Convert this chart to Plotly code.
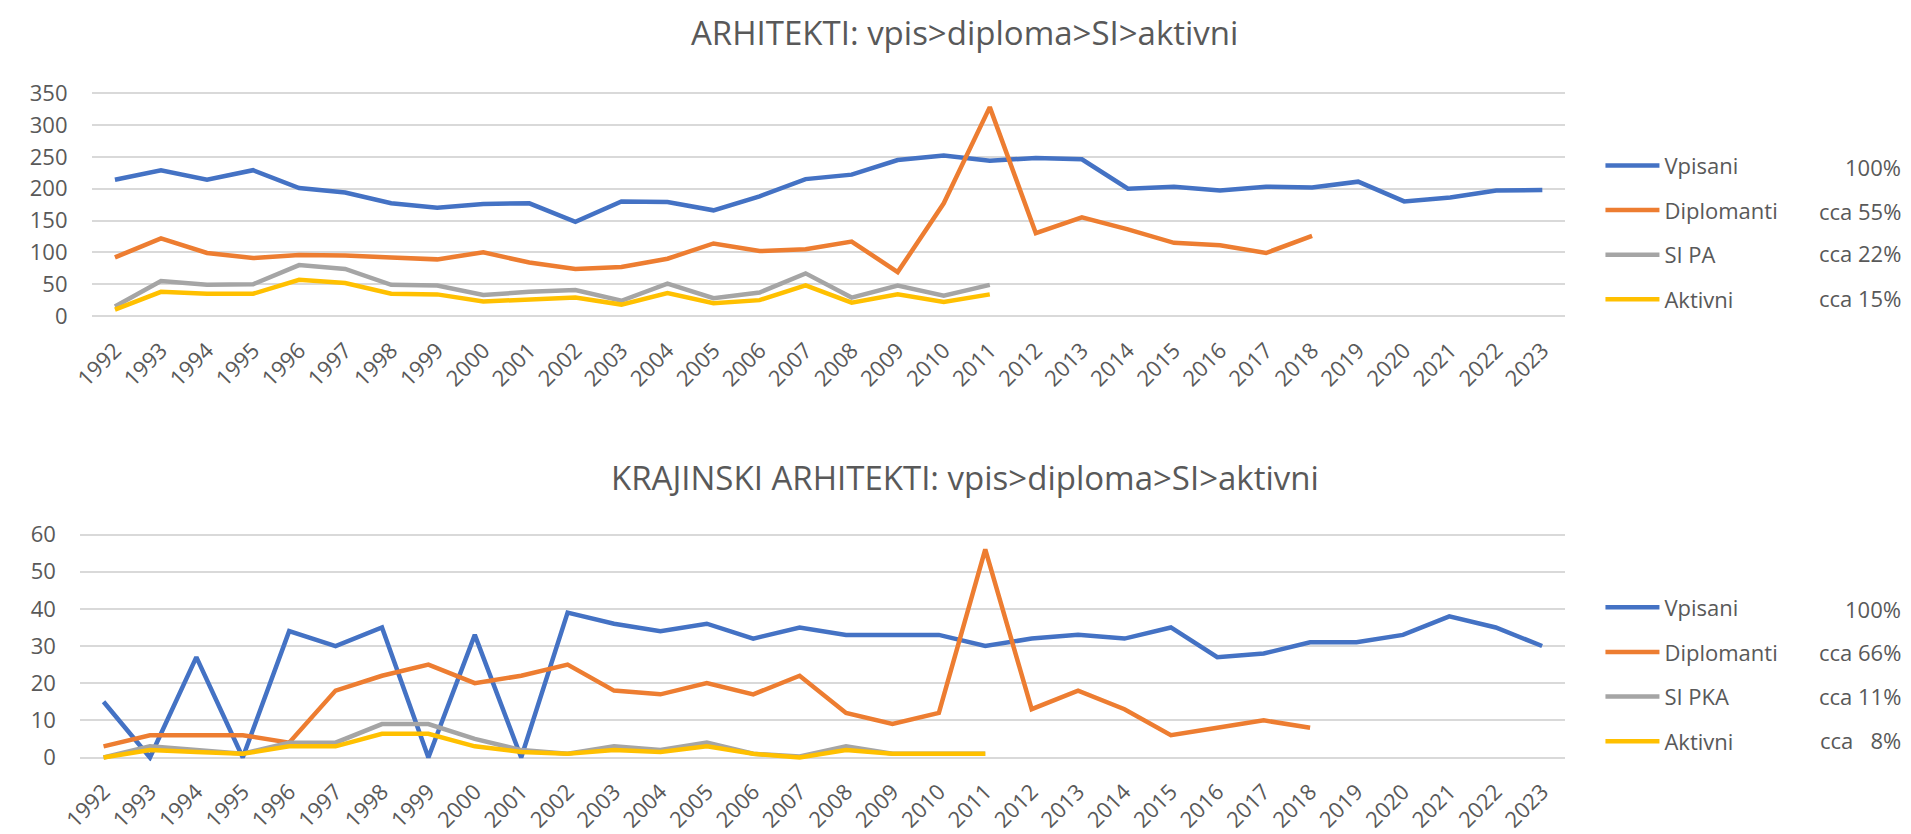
import plotly.graph_objects as go

W, H = 1911, 834

years = list(range(1992, 2024))
year_labels = [str(y) for y in years]

series_names_top = ["Vpisani", "Diplomanti", "SI PA", "Aktivni"]
series_names_bot = ["Vpisani", "Diplomanti", "SI PKA", "Aktivni"]
pct_top = ["100%", "cca 55%", "cca 22%", "cca 15%"]
pct_bot = ["100%", "cca 66%", "cca 11%", "cca\u00a0\u00a0\u00a08%"]

arh_vpisani = [214, 229, 214, 229, 201, 194, 177, 170, 176, 177, 148, 180, 179, 166, 188, 215,
               222, 245, 252, 244, 248, 246, 200, 203, 197, 203, 202, 211, 180, 186, 197, 198]
arh_diplomanti = [92, 122, 99, 91, 96, 95, 92, 89, 100, 84, 74, 77, 90, 114, 102, 105, 117, 69,
                  177, 328, 130, 155, 136, 115, 111, 99, 126]
arh_si_pa = [15, 55, 49, 50, 80, 74, 49, 48, 33, 38, 41, 24, 51, 28, 37, 67, 29, 48, 32, 49]
arh_aktivni = [10, 38, 35, 35, 57, 52, 35, 34, 23, 26, 29, 18, 36, 20, 25, 48, 21, 34, 22, 34]

ka_vpisani = [15, 0, 27, 0, 34, 30, 35, 0, 33, 0, 39, 36, 34, 36, 32, 35, 33, 33, 33, 30, 32, 33,
              32, 35, 27, 28, 31, 31, 33, 38, 35, 30]
ka_diplomanti = [3, 6, 6, 6, 4, 18, 22, 25, 20, 22, 25, 18, 17, 20, 17, 22, 12, 9, 12, 56, 13, 18,
                 13, 6, 8, 10, 8]
ka_si_pka = [0, 3, 2, 1, 4, 4, 9, 9, 5, 2, 1, 3, 2, 4, 1, 0.3, 3, 1, 1, 1]
ka_aktivni = [0, 2, 1.5, 1, 3, 3, 6.4, 6.4, 3, 1.5, 1, 2, 1.5, 3, 1, 0, 2, 1, 1, 1]

colors = ["#4472C4", "#ED7D31", "#A5A5A5", "#FFC000"]
FONT = "Open Sans"
TXT = "#595959"
GRID = "#D9D9D9"
LW = 4.5
TICK_SIZE = 22


def px_x(p):
    return p / W


def px_y(p):
    return 1 - p / H


fig = go.Figure()

top_data = [arh_vpisani, arh_diplomanti, arh_si_pa, arh_aktivni]
bot_data = [ka_vpisani, ka_diplomanti, ka_si_pka, ka_aktivni]

for i, (name, vals) in enumerate(zip(series_names_top, top_data)):
    fig.add_trace(go.Scatter(
        x=years[:len(vals)], y=vals, name=name, mode="lines",
        line=dict(color=colors[i], width=LW), xaxis="x", yaxis="y",
        legend="legend", legendgroup="t%d" % i, hoverinfo="x+y+name"))

for i, (name, vals) in enumerate(zip(series_names_bot, bot_data)):
    fig.add_trace(go.Scatter(
        x=years[:len(vals)], y=vals, name=name, mode="lines",
        line=dict(color=colors[i], width=LW), xaxis="x2", yaxis="y2",
        legend="legend2", legendgroup="b%d" % i, hoverinfo="x+y+name"))

# Top axes: gridline 0 at y=312.3px, 350 at 83.3px
t_ppu = (312.3 - 83.3) / 350
t_pad = 6
t_dom = [px_y(312.3 + t_pad * t_ppu), px_y(83.3 - t_pad * t_ppu)]
# Bottom axes: 0 at 765.7px, 60 at 536.7px
b_ppu = (765.7 - 536.7) / 60
b_pad = 1
b_dom = [px_y(765.7 + b_pad * b_ppu), px_y(536.7 - b_pad * b_ppu)]

xcommon = dict(
    tickmode="array", tickvals=years, ticktext=year_labels, tickangle=-45,
    showgrid=False, zeroline=False, showline=False,
    ticks="outside", ticklen=8, tickcolor="rgba(0,0,0,0)",
    tickfont=dict(family=FONT, size=TICK_SIZE, color=TXT),
    range=[1991.5, 2023.5], fixedrange=True,
)
ycommon = dict(
    showgrid=True, gridcolor=GRID, gridwidth=2, zeroline=True, zerolinecolor=GRID,
    zerolinewidth=2, showline=False,
    ticks="outside", ticklen=19, tickcolor="rgba(0,0,0,0)",
    tickfont=dict(family=FONT, size=TICK_SIZE, color=TXT), fixedrange=True,
)

legend_common = dict(
    xanchor="left", yanchor="middle",
    font=dict(family=FONT, size=22, color=TXT), bgcolor="rgba(0,0,0,0)",
    tracegroupgap=13, itemclick=False, itemdoubleclick=False, itemwidth=54,
)

fig.update_layout(
    width=W, height=H,
    margin=dict(l=0, r=0, t=0, b=0),
    paper_bgcolor="white", plot_bgcolor="white",
    showlegend=True,
    xaxis=dict(xcommon, domain=[px_x(71.7), px_x(1561.5)], anchor="y"),
    yaxis=dict(ycommon, domain=t_dom, range=[-t_pad, 350 + t_pad],
               tickvals=list(range(0, 351, 50)), anchor="x"),
    xaxis2=dict(xcommon, domain=[px_x(60), px_x(1561.5)], anchor="y2"),
    yaxis2=dict(ycommon, domain=b_dom, range=[-b_pad, 60 + b_pad],
                tickvals=list(range(0, 61, 10)), anchor="x2"),
    legend=dict(legend_common, x=px_x(1597), y=px_y(226.7)),
    legend2=dict(legend_common, x=px_x(1597), y=px_y(680.5)),
)

annotations = [
    dict(text="ARHITEKTI: vpis>diploma>SI>aktivni", x=px_x(954), y=px_y(21),
         xref="paper", yref="paper", xanchor="center", yanchor="middle", showarrow=False,
         font=dict(family=FONT, size=33, color=TXT)),
    dict(text="KRAJINSKI ARHITEKTI: vpis>diploma>SI>aktivni", x=px_x(954), y=px_y(478),
         xref="paper", yref="paper", xanchor="center", yanchor="middle", showarrow=False,
         font=dict(family=FONT, size=33, color=TXT)),
]
top_rows = [159.3, 204.7, 248.0, 294.0]
bot_rows = [613.3, 657.7, 702.7, 747.7]
for txt, yy in zip(pct_top, top_rows):
    annotations.append(dict(text=txt, x=px_x(1903), y=px_y(yy), xref="paper", yref="paper",
                            xanchor="right", yanchor="middle", showarrow=False,
                            font=dict(family=FONT, size=22, color=TXT)))
for txt, yy in zip(pct_bot, bot_rows):
    annotations.append(dict(text=txt, x=px_x(1903), y=px_y(yy), xref="paper", yref="paper",
                            xanchor="right", yanchor="middle", showarrow=False,
                            font=dict(family=FONT, size=22, color=TXT)))
fig.update_layout(annotations=annotations)

fig.write_html(
    "out.html",
    config={"displayModeBar": False},
    post_script="document.body.style.margin='0';document.body.style.overflow='hidden';",
)
